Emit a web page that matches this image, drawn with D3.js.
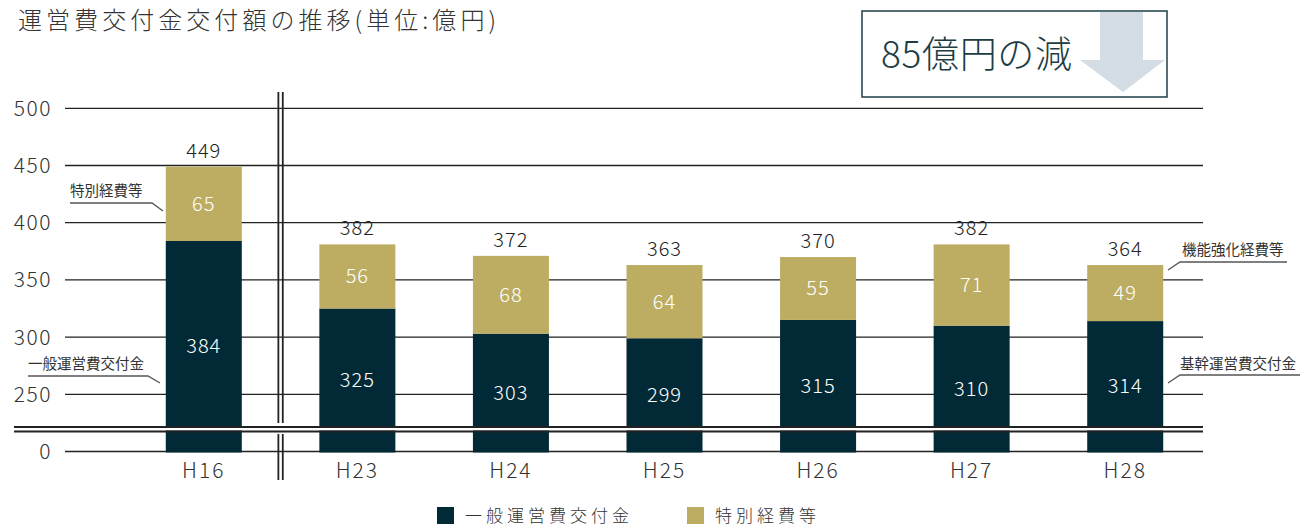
<!DOCTYPE html>
<html>
<head>
<meta charset="utf-8">
<script src="https://cdn.jsdelivr.net/npm/d3@7"></script>
<style>
  body { margin: 0; background: #fff; }
  svg { display: block; font-family: "Noto Sans CJK JP", "Noto Sans", sans-serif; font-weight: 300; }
</style>
</head>
<body>
<div id="chart"></div>
<script>
// data
const years = ["H16", "H23", "H24", "H25", "H26", "H27", "H28"];
const general = [384, 325, 303, 299, 315, 310, 314];   // 一般運営費交付金 / 基幹運営費交付金
const special = [65, 56, 68, 64, 55, 71, 49];          // 特別経費等 / 機能強化経費等
const totals = [449, 382, 372, 363, 370, 382, 364];
const yTicks = [0, 250, 300, 350, 400, 450, 500];
const seriesNames = ["一般運営費交付金", "特別経費等"];

const W = 1302, H = 526;
const darkCol = "#022a36", goldCol = "#bdad62";

const svg = d3.select("#chart").append("svg")
  .attr("width", W).attr("height", H);

// broken axis: 0..200 collapsed onto the baseline
const y = d3.scaleLinear().domain([0, 200, 500]).range([451.5, 451.5, 108.3]);
const x = d3.scaleBand().domain(years).range([127, 1202])
  .paddingInner(0.505).paddingOuter(0.2525);

// title
svg.append("text")
  .attr("x", 18).attr("y", 29)
  .attr("font-size", 24).attr("fill", "#333")
  .attr("textLength", 478).attr("lengthAdjust", "spacing")
  .text("運営費交付金交付額の推移(単位:億円)");

// grid
svg.append("g").selectAll("line")
  .data(yTicks).join("line")
  .attr("x1", 65).attr("x2", 1203)
  .attr("y1", d => y(d)).attr("y2", d => y(d))
  .attr("stroke", "#222").attr("stroke-width", 1.3);

svg.append("g").selectAll("text")
  .data(yTicks).join("text")
  .attr("x", 52).attr("y", d => y(d) + 7.5)
  .attr("text-anchor", "end")
  .attr("font-size", 21).attr("letter-spacing", 1.5).attr("fill", "#333")
  .text(d => d);

// bars
const bars = svg.append("g").selectAll("g")
  .data(years).join("g");

bars.append("rect")
  .attr("x", d => x(d)).attr("width", x.bandwidth())
  .attr("y", (d, i) => y(general[i]))
  .attr("height", (d, i) => y(0) + 1 - y(general[i]))
  .attr("fill", darkCol);

bars.append("rect")
  .attr("x", d => x(d)).attr("width", x.bandwidth())
  .attr("y", (d, i) => y(general[i] + special[i]))
  .attr("height", (d, i) => y(general[i]) - y(general[i] + special[i]))
  .attr("fill", goldCol);

// vertical separator after H16 (broken at the axis break)
const sepX = (x("H16") + x.bandwidth() + x("H23")) / 2;
[-2.2, 2.2].forEach(off => {
  [[92, 423], [434, 480]].forEach(seg => {
    svg.append("line")
      .attr("x1", sepX + off).attr("x2", sepX + off)
      .attr("y1", seg[0]).attr("y2", seg[1])
      .attr("stroke", "#222").attr("stroke-width", 1.8);
  });
});

// horizontal break
svg.append("rect")
  .attr("x", 14).attr("width", 1189)
  .attr("y", 428).attr("height", 2.5)
  .attr("fill", "#fff");
[427, 431.5].forEach(yy => {
  svg.append("line")
    .attr("x1", 14).attr("x2", 1203)
    .attr("y1", yy).attr("y2", yy)
    .attr("stroke", "#222").attr("stroke-width", 2);
});

// value labels
bars.append("text")
  .attr("x", d => x(d) + x.bandwidth() / 2)
  .attr("y", (d, i) => y(general[i] + special[i]) - 9)
  .attr("text-anchor", "middle").attr("font-size", 20).attr("letter-spacing", 1).attr("fill", "#222")
  .text((d, i) => totals[i]);

bars.append("text")
  .attr("x", d => x(d) + x.bandwidth() / 2)
  .attr("y", (d, i) => (y(general[i] + special[i]) + y(general[i])) / 2 + 7)
  .attr("text-anchor", "middle").attr("font-size", 20).attr("letter-spacing", 1).attr("fill", "#fff")
  .text((d, i) => special[i]);

bars.append("text")
  .attr("x", d => x(d) + x.bandwidth() / 2)
  .attr("y", (d, i) => (y(general[i]) + y(0)) / 2 + 7)
  .attr("text-anchor", "middle").attr("font-size", 20).attr("letter-spacing", 1).attr("fill", "#fff")
  .text((d, i) => general[i]);

// x labels
bars.append("text")
  .attr("x", d => x(d) + x.bandwidth() / 2)
  .attr("y", 478)
  .attr("text-anchor", "middle").attr("font-size", 21).attr("letter-spacing", 2).attr("fill", "#333")
  .text(d => d);

// callouts
const callouts = [
  { t: "特別経費等", tx: 70, ty: 196, pts: [[70, 203], [152, 203], [163, 211]] },
  { t: "一般運営費交付金", tx: 28, ty: 369, pts: [[28, 376], [148, 376], [160, 383]] },
  { t: "機能強化経費等", tx: 1182, ty: 255, pts: [[1287, 262], [1180, 262], [1168, 270]] },
  { t: "基幹運営費交付金", tx: 1180, ty: 369, pts: [[1300, 375], [1180, 375], [1168, 383]] }
];
callouts.forEach(c => {
  svg.append("text")
    .attr("x", c.tx).attr("y", c.ty)
    .attr("font-size", 14.5).attr("font-weight", 400).attr("fill", "#333")
    .text(c.t);
  svg.append("path")
    .attr("d", d3.line()(c.pts))
    .attr("fill", "none").attr("stroke", "#555").attr("stroke-width", 1.3);
});

// 85億円の減 box
svg.append("path")
  .attr("d", "M1100,12 L1143,12 L1143,60 L1165,60 L1123,92 L1080,60 L1100,60 Z")
  .attr("fill", "#d3dde3");
svg.append("rect")
  .attr("x", 862).attr("y", 11).attr("width", 305).attr("height", 86)
  .attr("fill", "none").attr("stroke", "#2b4a50").attr("stroke-width", 1.6);
svg.append("text")
  .attr("x", 881).attr("y", 68)
  .attr("font-size", 37).attr("fill", "#1d3d45")
  .attr("textLength", 191).attr("lengthAdjust", "spacing")
  .text("85億円の減");

// legend
const legX = [437, 687];
seriesNames.forEach((n, i) => {
  svg.append("rect")
    .attr("x", legX[i]).attr("y", 507).attr("width", 17).attr("height", 17)
    .attr("fill", i === 0 ? darkCol : goldCol);
  svg.append("text")
    .attr("x", legX[i] + 28).attr("y", 522)
    .attr("font-size", 17).attr("letter-spacing", 4).attr("fill", "#333")
    .text(n);
});
</script>
</body>
</html>
